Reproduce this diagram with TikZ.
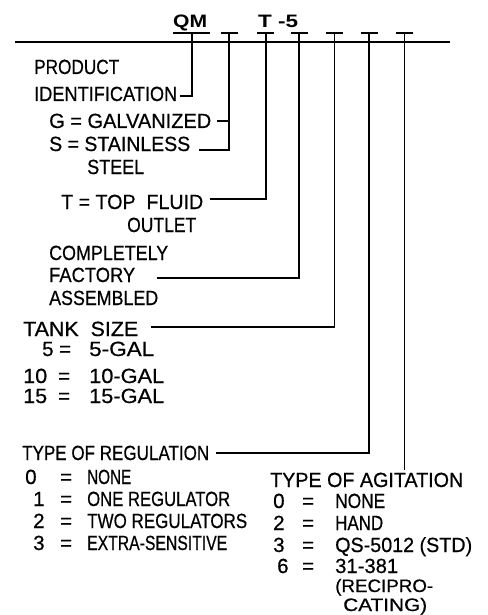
\documentclass[tikz,border=0pt]{standalone}
\usepackage{fontspec}
\setmainfont{Liberation Sans}
\newfontfamily\rf{Liberation Sans}[FakeBold=0.6]
\usepackage{graphicx}
\newcommand\fitw[2]{\resizebox{#1pt}{\height}{#2}}
\begin{document}
\begin{tikzpicture}[x=1pt,y=-1pt,
  lbl/.style={anchor=base west,inner sep=0pt,font=\rf\fontsize{20.5}{20}\selectfont},
  sml/.style={anchor=base west,inner sep=0pt,font=\rf\fontsize{20.5}{20}\selectfont},
  tail/.style={anchor=base west,inner sep=0pt,font=\rf\fontsize{18}{18}\selectfont},
  code/.style={anchor=base west,inner sep=0pt,font=\fontsize{18}{18}\selectfont\bfseries},
  lnk/.style={line width=1.6pt},
  bar/.style={line width=1.6pt}]
\useasboundingbox (0,0) rectangle (487,615);
% main line
\coordinate (L) at (15,42);
\coordinate (R) at (450,42);
\draw[lnk] (L) -- (R);
% code text
\node[code] (qm) at (173,28) {\fitw{34}{QM}};
\node[code] (t5) at (258,28) {\fitw{40}{T -5}};
% tick tops
\coordinate (k0) at (192,33);
\coordinate (k1) at (229,33);
\coordinate (k2) at (265.7,33);
\coordinate (k3) at (299,33);
\coordinate (k4) at (334.5,33);
\coordinate (k5) at (369,33);
\coordinate (k6) at (404.3,33);
\draw[bar] (173,33) -- (210,33);
\foreach \k in {k1,k2,k3,k4,k5,k6}{
  \draw[bar] ([xshift=-8.5pt]\k) -- ([xshift=8.5pt]\k);
}
% hook ends
\coordinate (h0) at (180,96);
\coordinate (h1a) at (217,121);
\coordinate (h1) at (199,150);
\coordinate (h2) at (210,199);
\coordinate (h3) at (157,278);
\coordinate (h4) at (151,327);
\coordinate (h5) at (216,453);
\coordinate (h6) at (404.3,470);
\draw[lnk] (k0) |- (h0);
\draw[lnk] (k1) |- (h1);
\draw[lnk] (h1a) -- (h1a -| k1);
\draw[lnk] (k2) |- (h2);
\draw[lnk] (k3) |- (h3);
\draw[lnk] (k4) |- (h4);
\draw[lnk] (k5) |- (h5);
\draw[lnk] (k6) -- (h6);
% labels
\node[lbl] (prod) at (34,74) {\fitw{85}{PRODUCT}};
\node[lbl] (ident) at (34,101) {\fitw{143}{IDENTIFICATION}};
\node[lbl] (galv) at (49,128) {\fitw{162}{G = GALVANIZED}};
\node[lbl] (stain) at (49,151) {\fitw{141}{S = STAINLESS}};
\node[lbl] (steel) at (87,174) {\fitw{57}{STEEL}};
\node[lbl] (top) at (61,209) {\fitw{142}{T = TOP\ \ FLUID}};
\node[lbl] (outlet) at (127,232) {\fitw{69}{OUTLET}};
\node[lbl] (compl) at (49,260) {\fitw{119}{COMPLETELY}};
\node[lbl] (fact) at (49,282) {\fitw{86}{FACTORY}};
\node[lbl] (assem) at (49,305) {\fitw{109}{ASSEMBLED}};
\node[lbl] (tank) at (23,336) {\fitw{115}{TANK\ \ SIZE}};
\node[sml] (s5) at (42,356) {\makebox[17pt][l]{5}\makebox[30pt][l]{=}\fitw{65}{5-GAL}};
\node[sml] (s10) at (23,383) {\makebox[35pt][l]{\fitw{24}{10}}\makebox[31pt][l]{=}\fitw{75}{10-GAL}};
\node[sml] (s15) at (23,403) {\makebox[35pt][l]{\fitw{24}{15}}\makebox[31pt][l]{=}\fitw{75}{15-GAL}};
\node[lbl] (reg) at (22,460) {\fitw{187}{TYPE OF REGULATION}};
\node[sml] (r0) at (25,484) {\makebox[35pt][l]{0}\makebox[27pt][l]{=}\fitw{44}{NONE}};
\node[sml] (r1) at (33,506) {\makebox[27pt][l]{1}\makebox[27pt][l]{=}\fitw{143}{ONE REGULATOR}};
\node[sml] (r2) at (33,528) {\makebox[27pt][l]{2}\makebox[27pt][l]{=}\fitw{160}{TWO REGULATORS}};
\node[sml] (r3) at (33,550) {\makebox[27pt][l]{3}\makebox[27pt][l]{=}\fitw{140}{EXTRA-SENSITIVE}};
\node[lbl] (agit) at (270,487) {\fitw{193}{TYPE OF AGITATION}};
\node[sml] (a0) at (273,508) {\makebox[29pt][l]{0}\makebox[33pt][l]{=}\fitw{50}{NONE}};
\node[sml] (a2) at (273,530) {\makebox[29pt][l]{2}\makebox[33pt][l]{=}\fitw{48}{HAND}};
\node[sml] (a3) at (273,552) {\makebox[29pt][l]{3}\makebox[33pt][l]{=}\fitw{137}{QS-5012 (STD)}};
\node[sml] (a6) at (277,573) {\makebox[25pt][l]{6}\makebox[33pt][l]{=}\fitw{63}{31-381}};
\node[tail] (recip) at (335,592) {\fitw{98}{(RECIPRO-}};
\node[tail] (cating) at (343,611) {\fitw{84}{CATING)}};
\end{tikzpicture}
\end{document}
